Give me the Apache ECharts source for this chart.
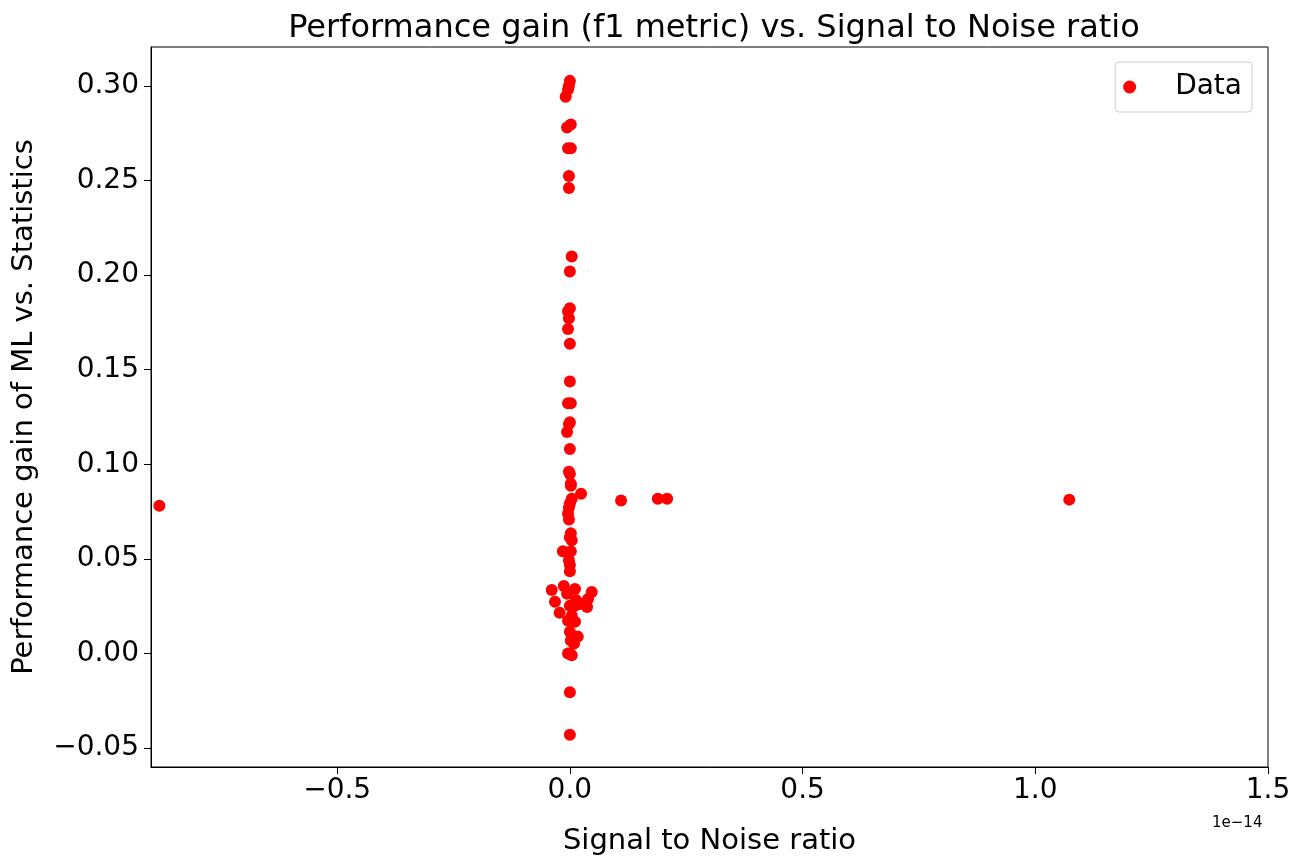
<!DOCTYPE html>
<html>
<head>
<meta charset="utf-8">
<script src="https://cdn.jsdelivr.net/npm/echarts@6/dist/echarts.min.js"></script>
<style>html,body{margin:0;padding:0;background:#fff}#chart{width:1303px;height:861px}</style>
</head>
<body>
<div id="chart"></div>
<script>
// 信噪比 (单位 1e-14)
const snrValues = [
    0.000, -0.002, -0.004, -0.009, 0.002, -0.006, -0.004, 0.002, -0.002, -0.002,
    0.004, 0.000, 0.000, -0.004, -0.002, -0.004, 0.000, 0.000, -0.004, 0.002,
    0.000, -0.002, -0.006, 0.000, -0.002, 0.000, 0.002, 0.002, 0.024, 0.004,
    0.000, -0.002, -0.004, -0.002, 0.002, 0.000, 0.004, -0.015, 0.002, -0.002,
    0.000, 0.000,
    0.110, 0.189, 0.209, 1.073, -0.882,
    -0.039, -0.032, -0.022, -0.013, -0.006, 0.011, 0.013, 0.000, 0.004, -0.004,
    0.011, 0.022, 0.047, 0.039, 0.037, 0.017, 0.000, 0.002, 0.011, 0.009,
    -0.002, 0.004, -0.004, 0.000, 0.000
];
// 性能提升
const gainValues = [
    0.3026, 0.3000, 0.2979, 0.2942, 0.2795, 0.2780, 0.2670, 0.2670, 0.2523, 0.2460,
    0.2098, 0.2019, 0.1825, 0.1809, 0.1772, 0.1715, 0.1637, 0.1437, 0.1322, 0.1322,
    0.1222, 0.1212, 0.1170, 0.1080, 0.0960, 0.0949, 0.0897, 0.0886, 0.0844, 0.0818,
    0.0792, 0.0771, 0.0739, 0.0708, 0.0635, 0.0614, 0.0598, 0.0540, 0.0540, 0.0493,
    0.0467, 0.0435,
    0.0808, 0.0818, 0.0818, 0.0813, 0.0781,
    0.0336, 0.0273, 0.0215, 0.0357, 0.0315, 0.0341, 0.0283, 0.0252, 0.0199, 0.0173,
    0.0168, 0.0262, 0.0325, 0.0288, 0.0246, 0.0089, 0.0115, 0.0068, 0.0252, 0.0052,
    0.0000, -0.0010, 0.0000, -0.0205, -0.0430
];
const xTicks = [-0.5, 0, 0.5, 1.0, 1.5];
const yTicks = [-0.05, 0, 0.05, 0.10, 0.15, 0.20, 0.25, 0.30];

const chart = echarts.init(document.getElementById('chart'));
const font = 'DejaVu Sans';
const points = snrValues.map((x, i) => [x, gainValues[i]]);

chart.setOption({
    animation: false,
    title: {
        text: 'Performance gain (f1 metric) vs. Signal to Noise ratio',
        left: 709, top: 8, textAlign: 'center',
        textStyle: { fontFamily: font, fontSize: 32, fontWeight: 'normal', color: '#000' }
    },
    legend: {
        right: 51, top: 62,
        data: ['Data'],
        icon: 'circle', itemWidth: 13, itemHeight: 13, itemGap: 10,
        padding: [11, 10, 11, 8],
        borderColor: '#ccc', borderWidth: 1, borderRadius: 4,
        textStyle: { fontFamily: font, fontSize: 28, color: '#000', padding: [0, 0, 0, 34] }
    },
    grid: { left: 151, right: 35, top: 47, bottom: 88, show: true, borderColor: '#000', borderWidth: 1 },
    xAxis: {
        type: 'value', min: -0.9, max: 1.5,
        name: 'Signal to Noise ratio', nameLocation: 'middle', nameGap: 60,
        nameTextStyle: { fontFamily: font, fontSize: 29, color: '#000' },
        axisLine: { show: true, onZero: false, lineStyle: { color: '#000' } },
        axisTick: { show: true, length: 7, customValues: xTicks, lineStyle: { color: '#000' } },
        axisLabel: {
            customValues: xTicks, fontFamily: font, fontSize: 28, color: '#000', margin: 10,
            formatter: v => (v < 0 ? '\u2212' : '') + Math.abs(v).toFixed(1)
        },
        splitLine: { show: false }
    },
    yAxis: {
        type: 'value', min: -0.06, max: 0.3205,
        name: 'Performance gain of ML vs. Statistics', nameLocation: 'middle', nameGap: 112,
        nameTextStyle: { fontFamily: font, fontSize: 29, color: '#000' },
        axisLine: { show: true, onZero: false, lineStyle: { color: '#000' } },
        axisTick: { show: true, length: 7, customValues: yTicks, lineStyle: { color: '#000' } },
        axisLabel: {
            customValues: yTicks, fontFamily: font, fontSize: 28, color: '#000', margin: 12,
            formatter: v => (v < 0 ? '\u2212' : '') + Math.abs(v).toFixed(2)
        },
        splitLine: { show: false }
    },
    graphic: [{
        type: 'text', left: 1212, top: 816,
        style: { text: '1e\u221214', font: '15px "DejaVu Sans"', fill: '#000' }
    }],
    series: [{
        name: 'Data', type: 'scatter', data: points,
        symbolSize: 12, itemStyle: { color: '#ff0000', opacity: 1 }
    }]
});
</script>
</body>
</html>
